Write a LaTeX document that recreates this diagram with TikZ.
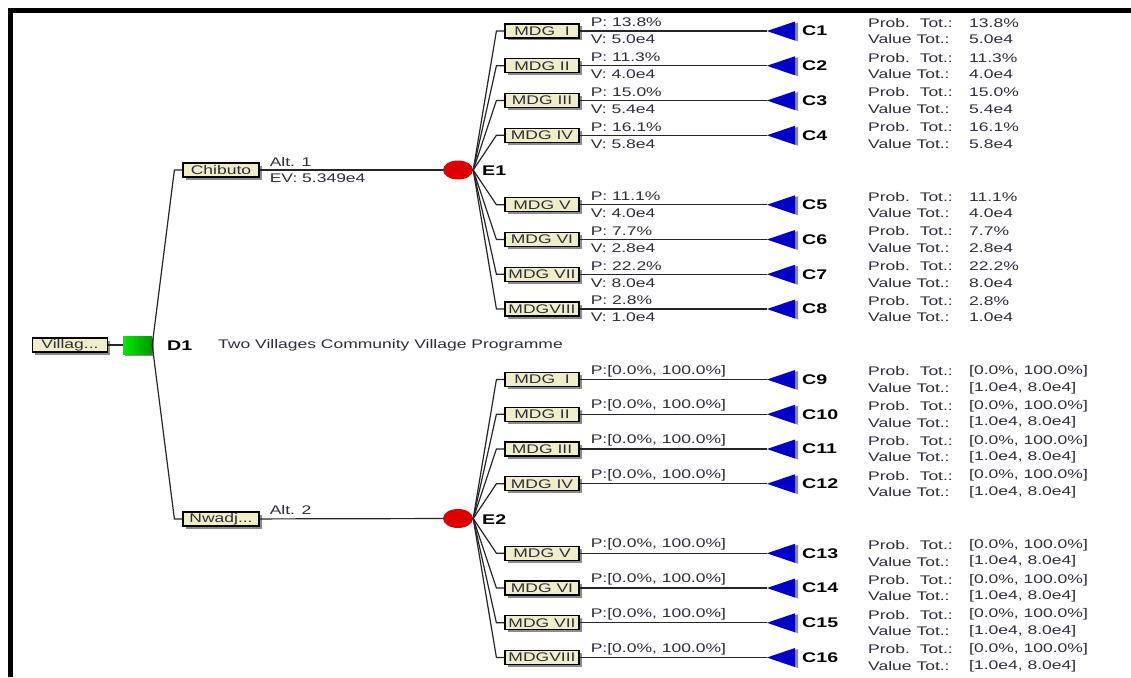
\documentclass[tikz,border=0pt]{standalone}
\usepackage{fontspec}
\usepackage{xcolor}
\usepackage{tikz}
\usetikzlibrary{shapes.geometric, positioning, shadows}
\newfontfamily\treefont{Liberation Sans}[FakeStretch=1.4]
\newcommand\treesize{\fontsize{12.5}{13}\selectfont}
\definecolor{boxfill}{RGB}{240,238,200}
\definecolor{txtgray}{RGB}{45,45,60}
\definecolor{chancered}{RGB}{220,0,0}
\definecolor{payblue}{RGB}{0,0,200}
\definecolor{decgreenA}{RGB}{0,235,0}
\definecolor{decgreenB}{RGB}{0,150,0}
\tikzstyle{tag} = [rectangle, draw=black, line width=1.2pt, fill=boxfill, minimum width=74pt, minimum height=14pt, inner sep=0pt, font=\treefont\treesize, text=txtgray, drop shadow={shadow xshift=2.5pt, shadow yshift=-2.5pt, fill=black!45, opacity=1}]
\tikzstyle{decision} = [rectangle, minimum width=29pt, minimum height=18pt, left color=decgreenA, right color=decgreenB, drop shadow={shadow xshift=2pt, shadow yshift=-2pt, fill=black!45, opacity=1}]
\tikzstyle{chance} = [ellipse, fill=chancered, minimum width=30pt, minimum height=19pt, inner sep=0pt]
\tikzstyle{info} = [font=\treefont\treesize, text=txtgray, inner sep=1pt]
\tikzstyle{cname} = [font=\treefont\fontsize{14}{14}\selectfont\bfseries, text=black, inner sep=1pt]
\tikzstyle{branch} = [draw=black!85, line width=1.2pt]

\begin{document}
\begin{tikzpicture}[x=1pt, y=-1pt]
    \useasboundingbox (0,0) rectangle (1131,677);
    % frame
    \draw[line width=5pt] (10.5,677) -- (10.5,10.5) -- (1131,10.5);

    % Decision
    \node [tag, minimum width=75pt] (root) at (70,345) {Villag...};
    \node [decision] (d1) at (137.5,345) {};
    \node [cname, anchor=west] at (166,346) {D1};
    \node [info, anchor=west] at (217,345) {Two Villages Community Village Programme};

    % Alternatives
    \node [tag, minimum width=76pt] (alt1) at (221,170) {Chibuto};
    \node [tag, minimum width=76pt] (alt2) at (221,519) {Nwadj...};
    \node [chance] (e1) at (458,170) {};
    \node [chance] (e2) at (458,518.5) {};
    \node [cname, anchor=west] at (481,171) {E1};
    \node [cname, anchor=west] at (481,520) {E2};
    \node [info, anchor=west] at ([xshift=9pt, yshift=8pt]alt1.east) {Alt. 1};
    \node [info, anchor=west] at ([xshift=9pt, yshift=-8pt]alt1.east) {EV: 5.349e4};
    \node [info, anchor=west] at ([xshift=9pt, yshift=9pt]alt2.east) {Alt. 2};

    \path [branch] (root) -- (d1);
    \path [branch] (d1.east) -- ([xshift=-8pt]alt1.west) -- (alt1.west);
    \path [branch] (d1.east) -- ([xshift=-8pt]alt2.west) -- (alt2.west);
    \path [branch] (alt1) -- (e1);
    \path [branch] (alt2) -- (e2);

    % Chibuto outcomes
    \foreach \k/\m/\p/\v [count=\i] in {-4/MDG\ \ I/13.8/5.0, -3/MDG II/11.3/4.0, -2/MDG III/15.0/5.4, -1/MDG IV/16.1/5.8, 1/MDG V/11.1/4.0, 2/MDG VI/7.7/2.8, 3/MDG VII/22.2/8.0, 4/MDGVIII/2.8/1.0} {
        \pgfmathsetmacro\yy{170+34.75*\k}
        \node [tag] (m\i) at (542,\yy) {\m};
        \coordinate (c\i) at (767,\yy);
        \fill [black!45] ([shift={(3,1)}]c\i) -- ++(28,-9.5) -- ++(0,19) -- cycle;
        \fill [payblue] (c\i) -- ++(28,-9.5) -- ++(0,19) -- cycle;
        \path [branch] (e1.east) -- ([xshift=-8pt]m\i.west) -- (m\i.west);
        \path [branch] (m\i.east) -- (c\i);
        \node [info, anchor=west] at ([xshift=10pt, yshift=8.5pt]m\i.east) {P: \p\%};
        \node [info, anchor=west] at ([xshift=10pt, yshift=-8.5pt]m\i.east) {V: \v e4};
        \node [cname, anchor=west] at (801,\yy) {C\i};
        \node [info, anchor=west] at (867,\yy-8) {Prob.\ \ Tot.:};
        \node [info, anchor=west] at (867,\yy+8.5) {Value Tot.:};
        \node [info, anchor=west] at (968,\yy-8) {\p\%};
        \node [info, anchor=west] at (968,\yy+8.5) {\v e4};
    }

    % Nwadj... outcomes
    \foreach \k/\m [count=\i from 9] in {-4/MDG\ \ I, -3/MDG II, -2/MDG III, -1/MDG IV, 1/MDG V, 2/MDG VI, 3/MDG VII, 4/MDGVIII} {
        \pgfmathsetmacro\yy{518.5+34.75*\k}
        \node [tag] (m\i) at (542,\yy) {\m};
        \coordinate (c\i) at (767,\yy);
        \fill [black!45] ([shift={(3,1)}]c\i) -- ++(28,-9.5) -- ++(0,19) -- cycle;
        \fill [payblue] (c\i) -- ++(28,-9.5) -- ++(0,19) -- cycle;
        \path [branch] (e2.east) -- ([xshift=-8pt]m\i.west) -- (m\i.west);
        \path [branch] (m\i.east) -- (c\i);
        \node [info, anchor=west] at ([xshift=10pt, yshift=8.5pt]m\i.east) {P:[0.0\%, 100.0\%]};
        \node [cname, anchor=west] at (801,\yy) {C\i};
        \node [info, anchor=west] at (867,\yy-8) {Prob.\ \ Tot.:};
        \node [info, anchor=west] at (867,\yy+8.5) {Value Tot.:};
        \node [info, anchor=west] at (968,\yy-8) {[0.0\%, 100.0\%]};
        \node [info, anchor=west] at (968,\yy+8.5) {[1.0e4, 8.0e4]};
    }
\end{tikzpicture}
\end{document}
